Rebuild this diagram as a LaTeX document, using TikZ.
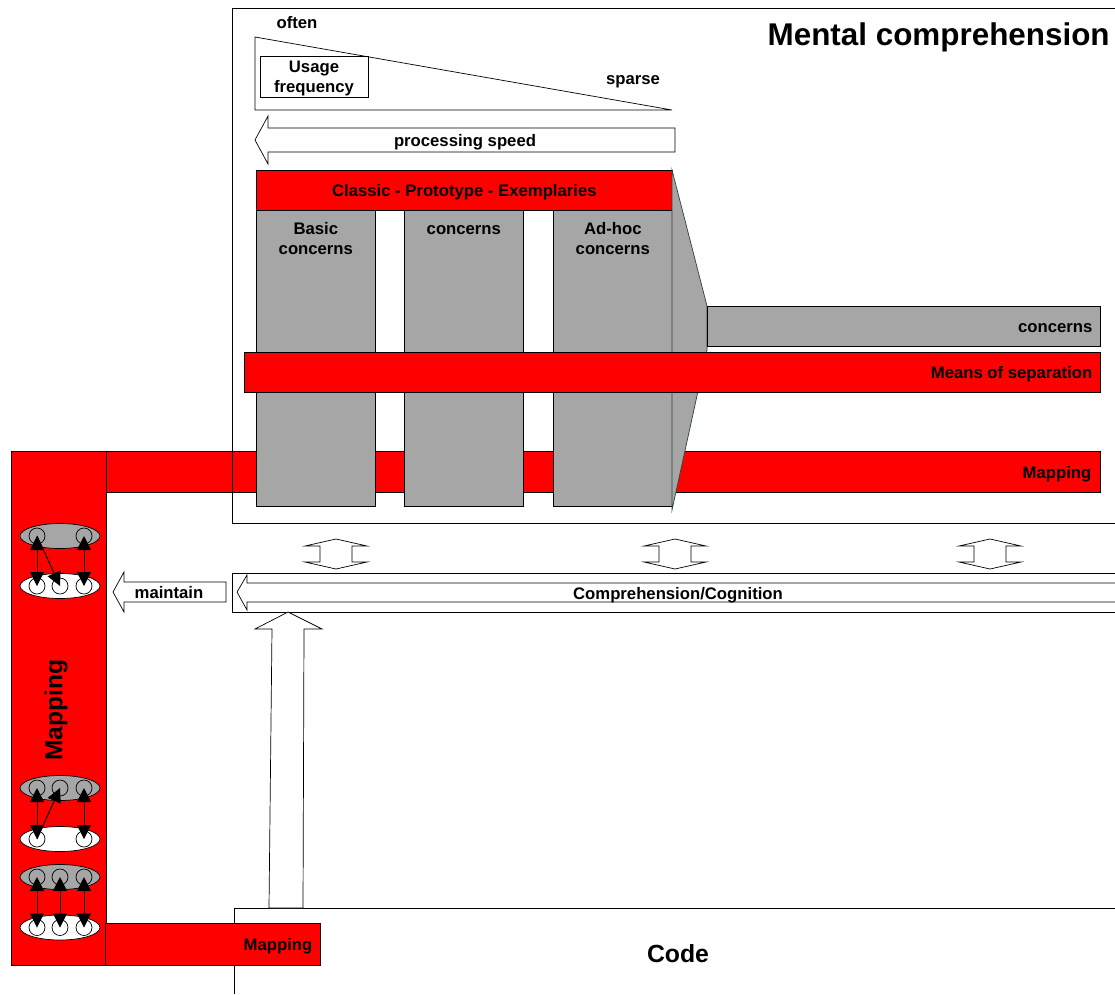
\documentclass[tikz,border=0pt]{standalone}
\usepackage{fontspec}
\setmainfont{Liberation Sans}
\usetikzlibrary{shapes.geometric}
\usetikzlibrary{arrows.meta}
\tikzset{>={Triangle[width=14pt,length=14pt]}}
\definecolor{mapred}{RGB}{255,0,0}
\definecolor{boxgray}{RGB}{166,166,166}
\definecolor{edgegreen}{RGB}{40,70,50}

\begin{document}
\begin{tikzpicture}[
    x = 1pt, y = -1pt,
    line width = 0.7pt,
    lbl/.style = {font=\bfseries\fontsize{16.7}{20}\selectfont, inner sep=0pt, align=center, yshift=-2pt},
    redbar/.style = {draw, fill=mapred, anchor=north west, inner sep=0pt},
    graybar/.style = {draw, fill=boxgray, anchor=north west, inner sep=0pt},
    blockarrow/.style = {draw, fill=white},
    cloud/.style = {draw, ellipse, minimum width=80, minimum height=25, inner sep=0pt},
    dot/.style = {draw, circle, minimum size=16, inner sep=0pt},
    link/.style = {line width=1pt}
  ]
  \useasboundingbox (0,0) rectangle (1115,994);

  \node[lbl, font=\bfseries\fontsize{31.4}{36}\selectfont, anchor=east] (title) at (1110,35) {Mental comprehension};
  \node[lbl] (often) at (297,21) {often};
  \node[lbl] (sparse) at (633,80) {sparse};
  \draw (255,37) -- (255,110) -- (672,110) -- cycle;
  \node[draw, lbl, minimum width=108, minimum height=41, yshift=2pt] (usage) at (314,76.5) {};
  \node[lbl] (usageT) at (usage) {Usage\\frequency};

  \draw[blockarrow] (255,140) -- (268,116) -- (268,128) -- (675,128) -- (675,152) -- (268,152) -- (268,164) -- cycle;
  \node[lbl] (speed) at (465,140) {processing speed};

  \node[redbar, minimum width=95, minimum height=514] (mapv) at (11,451) {};
  \node[redbar, minimum width=994, minimum height=41] (maph) at (106,451) {};
  \node[lbl, anchor=east] (maphT) at ([xshift=-9pt]maph.east) {Mapping};
  \node[lbl, font=\bfseries\fontsize{24.6}{28}\selectfont, rotate=90, yshift=2pt] (mapvT) at (58,708) {Mapping};

  \node[redbar, minimum width=416, minimum height=40] (classic) at (256,170) {};
  \node[lbl] (classicT) at (classic) {Classic - Prototype - Exemplaries};
  \foreach \x/\n/\t in {256/basic/{Basic\\concerns}, 404/plain/{concerns}, 553/adhoc/{Ad-hoc\\concerns}} {
    \node[graybar, minimum width=119, minimum height=296] (col-\n) at (\x,210) {};
    \node[lbl, anchor=north] (col-\n-t) at ([yshift=-8pt]col-\n.north) {\strut\t};
  }
  \draw[fill=boxgray, draw=edgegreen] (672,170) -- (707,306) -- (707,350) -- (672,510) -- cycle;

  \node[graybar, minimum width=393, minimum height=40] (conc) at (707,306) {};
  \node[lbl, anchor=east] (concT) at ([xshift=-8pt]conc.east) {concerns};
  \node[redbar, minimum width=856, minimum height=40] (sep) at (244,352) {};
  \node[lbl, anchor=east] (sepT) at ([xshift=-8pt]sep.east) {Means of separation};

  \draw (1115,8) -- (232,8) -- (232,523) -- (1115,523);

  \foreach \cx in {336,675,990}
    \draw[blockarrow] (\cx,539) -- (\cx+31,546) -- (\cx+16,546) -- (\cx+16,562) -- (\cx+31,562)
      -- (\cx,569) -- (\cx-31,562) -- (\cx-16,562) -- (\cx-16,546) -- (\cx-31,546) -- cycle;

  \draw (1115,573) -- (232,573) -- (232,612) -- (1115,612);
  \draw[blockarrow] (1115,583) -- (247,583) -- (247,575) -- (237,592) -- (247,610) -- (247,602) -- (1115,602);
  \node[lbl] (cogn) at (678,593) {Comprehension/Cognition};

  \draw[blockarrow] (113,592) -- (124,572) -- (124,582) -- (226,582) -- (226,602) -- (124,602) -- (124,612) -- cycle;
  \node[lbl] (maintain) at (169,591) {maintain};

  \draw (1115,908) -- (234,908) -- (234,994);
  \node[lbl, font=\bfseries\fontsize{24.8}{28}\selectfont] (code) at (678,952) {Code};
  \draw[blockarrow] (288,612) -- (322,629) -- (304,629) -- (303,908) -- (269,908) -- (272,629) -- (255,629) -- cycle;

  \node[redbar, minimum width=215, minimum height=42] (mapb) at (105,923) {};
  \node[lbl, anchor=east] (mapbT) at ([xshift=-8pt]mapb.east) {Mapping};

  \foreach \g/\yg/\yw in {a/536/586, b/788/839, c/877/927.5} {
    \node[cloud, fill=boxgray] (g-\g) at (60,\yg) {};
    \node[cloud, fill=white] (w-\g) at (60,\yw) {};
  }
  \foreach \i/\x in {1/37, 2/60, 3/84} {
    \node[dot] (w-a-\i) at (\x,586) {};
    \node[dot] (g-b-\i) at (\x,788) {};
    \node[dot] (g-c-\i) at (\x,877) {};
    \node[dot] (w-c-\i) at (\x,927.5) {};
  }
  \foreach \i/\x in {1/37, 3/84} {
    \node[dot] (g-a-\i) at (\x,536) {};
    \node[dot] (w-b-\i) at (\x,839) {};
  }
  \foreach \g/\i in {a/1, a/3, b/1, b/3, c/1, c/2, c/3}
    \draw[link, <->] (g-\g-\i.center) -- (w-\g-\i.center);
  \draw[link, ->] (g-a-1.center) -- (w-a-2.center);
  \draw[link, ->] (w-b-1.center) -- (g-b-2.center);
\end{tikzpicture}
\end{document}
